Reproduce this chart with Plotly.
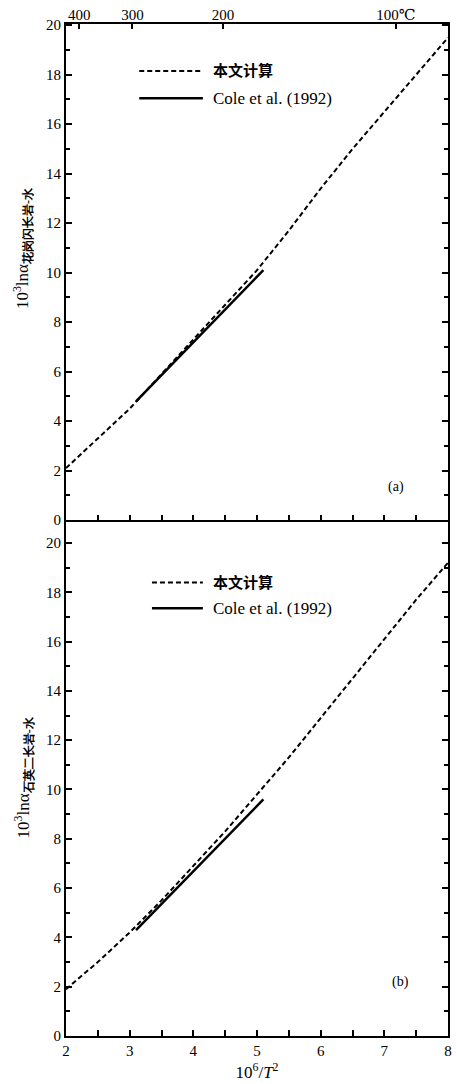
import plotly.graph_objects as go
from plotly.subplots import make_subplots

# ---- data ----
x_calc = [2.0, 2.5, 3.0, 3.5, 4.0, 4.5, 5.0, 5.5, 6.0, 6.5, 7.0, 7.5, 8.0]
a_calc = [2.1, 3.3, 4.5, 5.9, 7.3, 8.7, 10.1, 11.7, 13.4, 15.0, 16.5, 18.0, 19.5]
b_calc = [1.9, 3.0, 4.2, 5.5, 6.9, 8.3, 9.8, 11.3, 12.9, 14.5, 16.1, 17.7, 19.2]
x_cole = [3.1, 5.1]
a_cole = [4.8, 10.1]
b_cole = [4.3, 9.6]
temps_c = [400, 300, 200, 100]
temp_labels = ["400", "300", "200", "100℃"]
legend_calc = "本文计算"
legend_cole = "Cole et al. (1992)"
ytitle_a = "10<sup>3</sup>lnα<sub><b>花岗闪长岩-水</b></sub>"
ytitle_b = "10<sup>3</sup>lnα<sub><b>石英二长岩-水</b></sub>"
xtitle = "10<sup>6</sup>/<i>T</i><sup>2</sup>"

SERIF = "Times New Roman, Liberation Serif, DejaVu Serif, serif"
temp_pos = [1e6 / (t + 273.15) ** 2 for t in temps_c]

fig = make_subplots(rows=2, cols=1, shared_xaxes=False, vertical_spacing=0)

dash = "5px,3px"
fig.add_trace(go.Scatter(x=x_calc, y=a_calc, mode="lines",
                         line=dict(color="black", width=2, dash=dash), showlegend=False), 1, 1)
fig.add_trace(go.Scatter(x=x_cole, y=a_cole, mode="lines",
                         line=dict(color="black", width=2.5), showlegend=False), 1, 1)
fig.add_trace(go.Scatter(x=x_calc, y=b_calc, mode="lines",
                         line=dict(color="black", width=2, dash=dash), showlegend=False), 2, 1)
fig.add_trace(go.Scatter(x=x_cole, y=b_cole, mode="lines",
                         line=dict(color="black", width=2.5), showlegend=False), 2, 1)
# top temperature axis helper trace
fig.add_trace(go.Scatter(x=temp_pos, y=[None] * len(temp_pos), xaxis="x3", yaxis="y",
                         mode="markers", showlegend=False, hoverinfo="skip"))

H_A, H_B = 500, 520
split = H_B / (H_A + H_B)

axis_common = dict(showline=True, linecolor="black", linewidth=2, ticks="inside",
                   tickcolor="black", tickwidth=2, showgrid=False, zeroline=False,
                   tickfont=dict(family=SERIF, size=15, color="black"))

fig.update_layout(
    width=457, height=1084,
    margin=dict(l=66, r=5, t=24, b=40),
    paper_bgcolor="white", plot_bgcolor="white",
    xaxis=dict(axis_common, range=[2, 8], domain=[0, 1], dtick=0.5, ticklen=5,
               showticklabels=False, mirror=True, anchor="y"),
    yaxis=dict(axis_common, range=[0, 20.05], domain=[split, 1], dtick=2, ticklen=6,
               mirror="ticks", minor=dict(dtick=1, ticks="inside", ticklen=4, tickcolor="black", tickwidth=2)),
    xaxis2=dict(axis_common, range=[2, 8], domain=[0, 1], dtick=0.5, ticklen=6,
                tickvals=[2, 2.5, 3, 3.5, 4, 4.5, 5, 5.5, 6, 6.5, 7, 7.5, 8],
                ticktext=["2", "", "3", "", "4", "", "5", "", "6", "", "7", "", "8"],
                mirror=False, anchor="y2",
                title=dict(text=xtitle, font=dict(family=SERIF, size=17, color="black"), standoff=8)),
    yaxis2=dict(axis_common, range=[0, 20.93], domain=[0, split], dtick=2, ticklen=6,
                mirror="ticks", minor=dict(dtick=1, ticks="inside", ticklen=4, tickcolor="black", tickwidth=2)),
    xaxis3=dict(overlaying="x", side="top", range=[2, 8], tickvals=temp_pos, ticktext=temp_labels,
                ticks="inside", ticklen=5, tickwidth=2, tickcolor="black", showgrid=False,
                zeroline=False, showline=False, anchor="y",
                tickfont=dict(family=SERIF, size=15, color="black")),
)

# panel (a) legend
fig.add_shape(type="line", xref="x", yref="y", x0=3.15, x1=4.15, y0=18.15, y1=18.15,
              line=dict(color="black", width=2, dash=dash))
fig.add_shape(type="line", xref="x", yref="y", x0=3.15, x1=4.15, y0=17.05, y1=17.05,
              line=dict(color="black", width=2.5))
fig.add_annotation(x=4.28, y=18.2, xref="x", yref="y", text="<b>" + legend_calc + "</b>",
                   showarrow=False, xanchor="left", font=dict(family="Noto Sans CJK SC", size=15, color="black"))
fig.add_annotation(x=4.28, y=17.05, xref="x", yref="y", text=legend_cole,
                   showarrow=False, xanchor="left", font=dict(family=SERIF, size=17, color="black"))
# panel (b) legend
fig.add_shape(type="line", xref="x2", yref="y2", x0=3.35, x1=4.15, y0=18.4, y1=18.4,
              line=dict(color="black", width=2, dash=dash))
fig.add_shape(type="line", xref="x2", yref="y2", x0=3.35, x1=4.15, y0=17.35, y1=17.35,
              line=dict(color="black", width=2.5))
fig.add_annotation(x=4.28, y=18.45, xref="x2", yref="y2", text="<b>" + legend_calc + "</b>",
                   showarrow=False, xanchor="left", font=dict(family="Noto Sans CJK SC", size=15, color="black"))
fig.add_annotation(x=4.28, y=17.35, xref="x2", yref="y2", text=legend_cole,
                   showarrow=False, xanchor="left", font=dict(family=SERIF, size=17, color="black"))

# panel labels
fig.add_annotation(x=7.18, y=1.35, xref="x", yref="y", text="(a)", showarrow=False,
                   font=dict(family=SERIF, size=14, color="black"))
fig.add_annotation(x=7.26, y=2.2, xref="x2", yref="y2", text="(b)", showarrow=False,
                   font=dict(family=SERIF, size=14, color="black"))

# y titles
fig.add_annotation(x=-0.15, y=11.0, xref="paper", yref="y", text=ytitle_a, textangle=-90,
                   showarrow=False, font=dict(family=SERIF, size=17, color="black"))
fig.add_annotation(x=-0.15, y=10.5, xref="paper", yref="y2", text=ytitle_b, textangle=-90,
                   showarrow=False, font=dict(family=SERIF, size=17, color="black"))

fig.write_html("out.html")
